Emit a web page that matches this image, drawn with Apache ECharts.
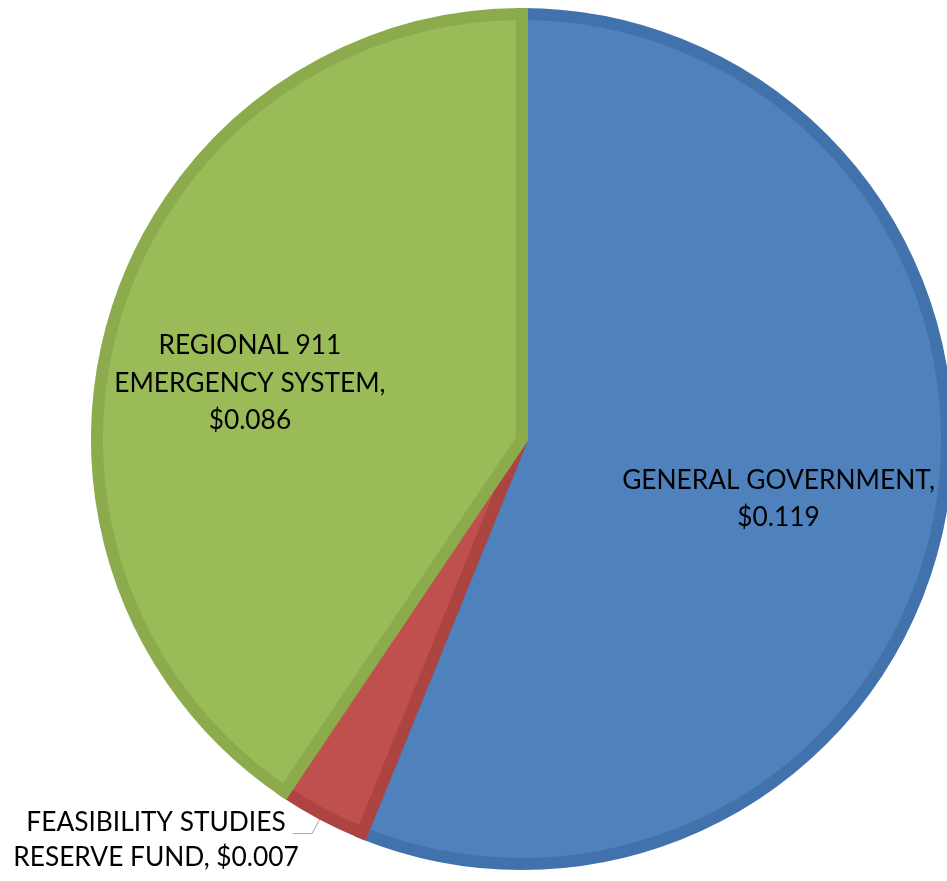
<!DOCTYPE html>
<html>
<head>
<meta charset="utf-8">
<script src="https://cdn.jsdelivr.net/npm/echarts@6/dist/echarts.min.js"></script>
<style>
  html, body { margin: 0; padding: 0; background: #ffffff; }
  #chart { width: 947px; height: 881px; }
</style>
</head>
<body>
<div id="chart"></div>
<script>
// Fund shares (dollars), drawn clockwise from 12 o'clock
const categories = ['GENERAL GOVERNMENT', 'FEASIBILITY STUDIES RESERVE FUND', 'REGIONAL 911 EMERGENCY SYSTEM'];
const values = [0.119, 0.007, 0.086];
const labelLines = [
  ['GENERAL GOVERNMENT,'],
  ['FEASIBILITY STUDIES', 'RESERVE FUND,'],
  ['REGIONAL 911', 'EMERGENCY SYSTEM,']
];
const fillColors = ['#4F81BD', '#C0504D', '#9BBB59'];
const edgeColors = ['#4272AC', '#AE4441', '#8CAB4C'];

const FONT = 'Lato, "Open Sans", sans-serif';
const FONT_SIZE = 26.3;

function money(v) { return '$' + v.toFixed(3); }

const chart = echarts.init(document.getElementById('chart'), null, { renderer: 'canvas' });

const data = categories.map(function (name, i) {
  const item = {
    name: name,
    value: values[i],
    itemStyle: { color: fillColors[i], borderColor: edgeColors[i] }
  };
  if (i === 1) {
    // small slice: outside label with a leader line
    item.label = {
      position: 'outside',
      formatter: function (p) {
        return '{t|' + labelLines[1][0] + '}\n{t|' + labelLines[1][1] + ' ' + money(p.value) + '}';
      },
      rich: {
        t: { width: 292, align: 'center', fontFamily: FONT, fontSize: FONT_SIZE, lineHeight: 35, color: '#000000' }
      },
      distanceToLabelLine: -9
    };
    item.labelLine = { show: true, length: 22, length2: 19, lineStyle: { color: '#A6A6A6', width: 1 } };
  } else {
    item.label = {
      position: 'inside',
      formatter: function (p) {
        return labelLines[p.dataIndex].join('\n') + '\n' + money(p.value);
      },
      offset: i === 0 ? [45, 19] : [-66, 7]
    };
    item.labelLine = { show: false };
  }
  return item;
});

chart.setOption({
  backgroundColor: '#ffffff',
  animation: false,
  series: [{
    type: 'pie',
    center: [522, 439],
    radius: 425,
    startAngle: 90,
    clockwise: true,
    avoidLabelOverlap: false,
    emphasis: { disabled: true },
    itemStyle: { borderWidth: 12, borderJoin: 'miter', borderMiterLimit: 2 },
    label: {
      color: '#000000',
      fontFamily: FONT,
      fontSize: FONT_SIZE,
      lineHeight: 37.5,
      align: 'center'
    },
    labelLayout: function (params) {
      return params.dataIndex === 1 ? { dy: 6 } : {};
    },
    data: data
  }]
});
</script>
</body>
</html>
